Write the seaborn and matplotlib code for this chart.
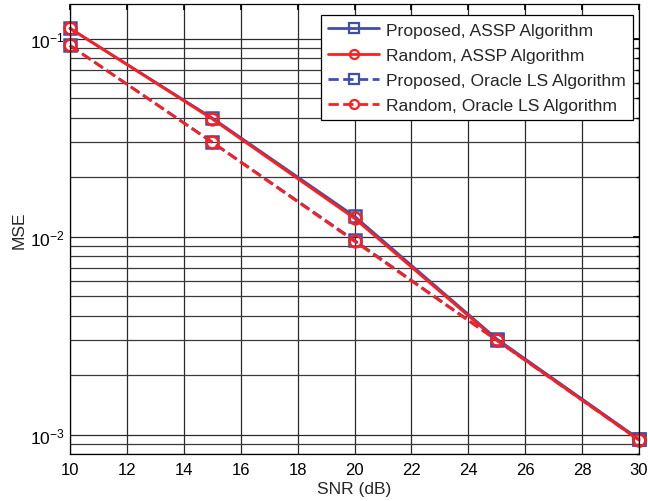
import matplotlib
matplotlib.use("Agg")
import matplotlib.pyplot as plt
import seaborn as sns
import pandas as pd
import numpy as np
from matplotlib.ticker import LogLocator, FixedLocator

snr = [10, 15, 20, 25, 30]
proposed_assp = [0.113, 0.0398, 0.0127, 0.00305, 0.00095]
random_assp = [0.113, 0.0394, 0.0124, 0.00301, 0.00094]
proposed_oracle = [0.0926, 0.0301, 0.0096, 0.00301, 0.00095]
random_oracle = [0.0926, 0.0300, 0.0095, 0.00300, 0.00094]

labels = ["Proposed, ASSP Algorithm", "Random, ASSP Algorithm",
          "Proposed, Oracle LS Algorithm", "Random, Oracle LS Algorithm"]
series = [proposed_assp, random_assp, proposed_oracle, random_oracle]

sns.set_theme(style="white")
plt.rcParams['font.family'] = ['Liberation Sans', 'DejaVu Sans']
plt.rcParams['mathtext.default'] = 'regular'

fig = plt.figure(figsize=(6.48, 5.02), dpi=100)
# axes: x 70..639 px, y 5..455 px
ax = fig.add_axes([70/648, (502-455)/502, 569/648, 450/502])

blue = '#3F4FAF'
red = '#FF1E1E'
styles = [
    dict(color=blue, marker='s', linestyle='-'),
    dict(color=red, marker='o', linestyle='-'),
    dict(color=blue, marker='s', linestyle='--'),
    dict(color=red, marker='o', linestyle='--'),
]

for lab, vals, st in zip(labels, series, styles):
    df = pd.DataFrame({"SNR": snr, "MSE": vals})
    sns.lineplot(data=df, x="SNR", y="MSE", ax=ax, label=lab,
                 color=st['color'], linestyle=st['linestyle'],
                 marker=st['marker'], markersize=9 if st['marker'] == 's' else 8.5,
                 markerfacecolor='none', markeredgecolor=st['color'],
                 markeredgewidth=1.8, linewidth=2.0, clip_on=False)

ax.set_yscale('log')
ax.set_xlim(10, 30)
ax.set_ylim(8.0e-4, 0.150)
ax.set_xticks(np.arange(10, 31, 2))
ax.yaxis.set_major_locator(FixedLocator([1e-3, 1e-2, 1e-1]))
ax.set_yticklabels(['$10^{-3}$', '$10^{-2}$', '$10^{-1}$'])
ax.yaxis.set_minor_locator(LogLocator(base=10, subs=np.arange(2, 10), numticks=20))
ax.yaxis.set_minor_formatter(matplotlib.ticker.NullFormatter())

ax.grid(True, which='major', color='#2a2a2a', linewidth=0.9, linestyle='-')
ax.grid(True, which='minor', axis='y', color='#3a3a3a', linewidth=0.9, linestyle='-')
ax.set_axisbelow(True)

ax.tick_params(axis='both', which='both', direction='in', labelsize=12, colors='black',
               top=True, right=True, length=4, pad=6)
ax.tick_params(axis='both', which='minor', length=2)
ax.tick_params(axis='y', which='major', labelsize=12.5, pad=4)
for s in ax.spines.values():
    s.set_color('black')
    s.set_linewidth(0.9)

ax.set_xlabel('SNR (dB)', fontsize=12.5, labelpad=3)
ax.set_ylabel('MSE', fontsize=12.5, labelpad=2)

leg = ax.legend(loc='upper right', fontsize=12.6, frameon=True, fancybox=False,
                edgecolor='black', framealpha=1, handlelength=2.9, handletextpad=0.4,
                borderpad=0.42, labelspacing=0.56, borderaxespad=0,
                bbox_to_anchor=(0.9895, 0.9756))
leg.get_frame().set_linewidth(0.9)
for h in leg.legend_handles:
    h.set_markersize(6.5)
    h.set_markeredgewidth(1.6)

fig.savefig('out.png', dpi=100)
